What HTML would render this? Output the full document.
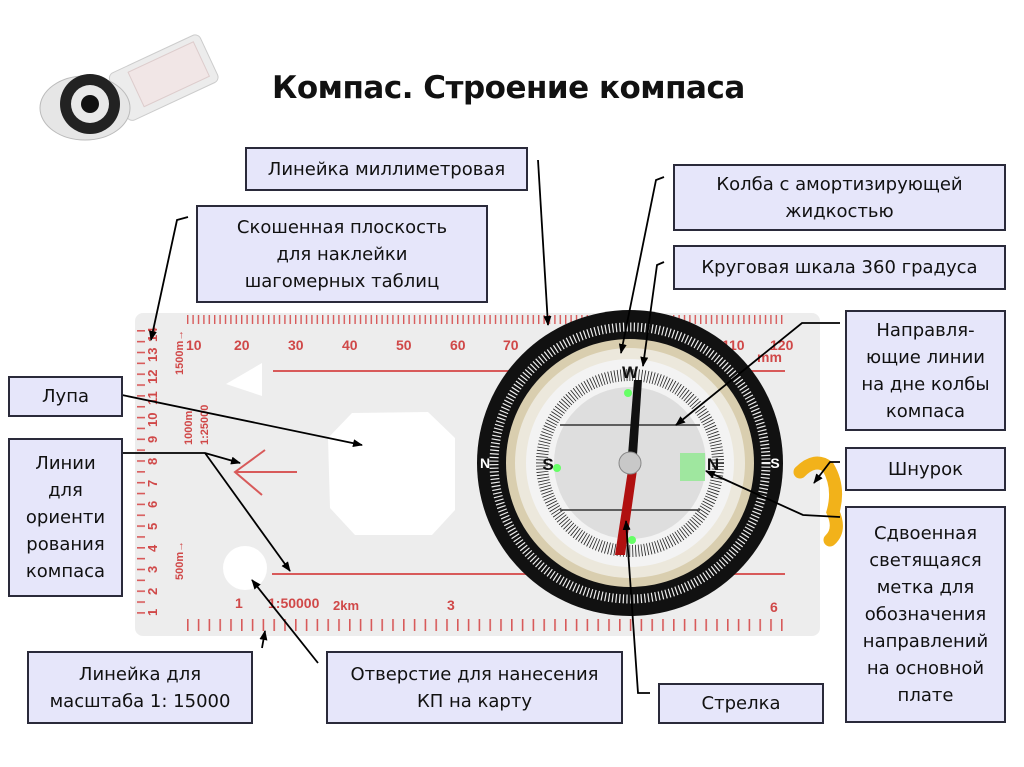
<!DOCTYPE html>
<html><head><meta charset="utf-8"><style>
html,body{margin:0;padding:0;background:#fff;}
body{width:1024px;height:767px;overflow:hidden;position:relative;font-family:"DejaVu Sans","Liberation Sans",sans-serif;}
.b{position:absolute;background:#e6e6fa;border:2px solid #2a2a3a;box-sizing:border-box;display:flex;align-items:center;justify-content:center;text-align:center;font-size:18px;line-height:27px;color:#111;}
h1{position:absolute;left:272px;top:70px;margin:0;font:bold 31px "DejaVu Sans","Liberation Sans",sans-serif;color:#111;letter-spacing:-0.5px}
svg{position:absolute;left:0;top:0}
</style></head><body>
<svg width="1024" height="767" viewBox="0 0 1024 767">
<defs>
<pattern id="tt" x="187" y="315" width="5.4" height="40" patternUnits="userSpaceOnUse"><rect x="0" y="0" width="1.4" height="9" fill="#d85a5a"/></pattern>
<pattern id="tb" x="187" y="615" width="10.8" height="40" patternUnits="userSpaceOnUse"><rect x="0" y="4" width="1.6" height="12" fill="#d85a5a"/></pattern>
<pattern id="tl" x="137" y="330" width="40" height="10.85" patternUnits="userSpaceOnUse"><rect x="0" y="0" width="8" height="1.6" fill="#d85a5a"/></pattern>
<marker id="ar" markerWidth="10" markerHeight="8" refX="9" refY="4" orient="auto" markerUnits="userSpaceOnUse"><path d="M0,0 L10,4 L0,8 z" fill="#000"/></marker>
</defs>
<!-- thumbnail -->
<g transform="translate(130,100) rotate(-25)">
<rect x="-10" y="-32" width="100" height="52" rx="6" fill="#ececec" stroke="#ccc"/>
<rect x="10" y="-26" width="72" height="38" fill="#f1e6e6" stroke="#dcc"/>
</g>
<ellipse cx="85" cy="108" rx="45" ry="32" fill="#e6e6e6" stroke="#bbb"/>
<circle cx="90" cy="104" r="30" fill="#222"/>
<circle cx="90" cy="104" r="19" fill="#e8e8e8"/>
<circle cx="90" cy="104" r="9" fill="#111"/>
<!-- plate -->
<rect x="135" y="313" width="685" height="323" rx="8" fill="#ededed"/>
<rect x="185" y="315" width="600" height="9" fill="url(#tt)"/>
<rect x="185" y="615" width="605" height="17" fill="url(#tb)"/>
<rect x="137" y="322" width="9" height="300" fill="url(#tl)"/>
<g fill="#d04848" font-family="Liberation Sans,sans-serif" font-size="14" font-weight="bold">
<text x="186" y="350">10</text><text x="234" y="350">20</text><text x="288" y="350">30</text><text x="342" y="350">40</text><text x="396" y="350">50</text><text x="450" y="350">60</text><text x="503" y="350">70</text><text x="722" y="350">110</text><text x="770" y="350">120</text><text x="757" y="362">mm</text>
<text x="235" y="608">1</text><text x="268" y="608">1:50000</text><text x="333" y="610" font-size="13">2km</text><text x="447" y="610">3</text><text x="770" y="612">6</text>
<g font-size="13">
<text transform="translate(157,342) rotate(-90)">14</text><text transform="translate(157,362) rotate(-90)">13</text><text transform="translate(157,384) rotate(-90)">12</text><text transform="translate(157,405) rotate(-90)">11</text><text transform="translate(157,427) rotate(-90)">10</text><text transform="translate(157,443) rotate(-90)">9</text><text transform="translate(157,465) rotate(-90)">8</text><text transform="translate(157,487) rotate(-90)">7</text><text transform="translate(157,508) rotate(-90)">6</text><text transform="translate(157,530) rotate(-90)">5</text><text transform="translate(157,552) rotate(-90)">4</text><text transform="translate(157,573) rotate(-90)">3</text><text transform="translate(157,595) rotate(-90)">2</text><text transform="translate(157,616) rotate(-90)">1</text>
<text transform="translate(183,375) rotate(-90)" font-size="11">1500m→</text>
<text transform="translate(192,445) rotate(-90)" font-size="11">1000m</text>
<text transform="translate(208,445) rotate(-90)" font-size="11">1:25000</text>
<text transform="translate(183,580) rotate(-90)" font-size="11">500m→</text>
</g></g>
<line x1="273" y1="371" x2="785" y2="371" stroke="#d85a5a" stroke-width="2"/>
<line x1="272" y1="574" x2="785" y2="574" stroke="#d85a5a" stroke-width="2"/>
<path d="M265,450 L235,472 L262,495 M235,472 L297,472" stroke="#d85a5a" stroke-width="2" fill="none"/>
<polygon points="352,413 428,412 455,438 455,510 432,535 355,535 330,508 328,438" fill="#fff"/>
<polygon points="262,363 262,396 226,384" fill="#fff"/>
<circle cx="245" cy="568" r="22" fill="#fff"/>
<!-- lanyard -->
<path d="M800,472 q15,-15 28,-5 q12,20 5,45 q8,18 -3,28" stroke="#f2b21a" stroke-width="13" fill="none" stroke-linecap="round"/>
<!-- compass -->
<circle cx="630" cy="463" r="153" fill="#111"/>
<circle cx="630" cy="463" r="136" fill="none" stroke="#eee" stroke-width="9" stroke-dasharray="1.2 2.4"/>
<circle cx="630" cy="463" r="124" fill="#d9ceaf"/>
<circle cx="630" cy="463" r="115" fill="#ece8dc"/>
<circle cx="630" cy="463" r="104" fill="#f3f3f3"/>
<circle cx="630" cy="463" r="88" fill="none" stroke="#222" stroke-width="12" stroke-dasharray="0.8 2.2"/>
<circle cx="630" cy="463" r="76" fill="#dedede"/>
<line x1="560" y1="425" x2="700" y2="425" stroke="#333" stroke-width="1.5"/>
<line x1="560" y1="510" x2="700" y2="510" stroke="#333" stroke-width="1.5"/>
<rect x="680" y="453" width="25" height="28" fill="#8fe88f" opacity="0.8"/>
<circle cx="557" cy="468" r="4" fill="#6f6"/><circle cx="628" cy="393" r="4" fill="#6f6"/><circle cx="632" cy="540" r="4" fill="#6f6"/>
<g fill="#fff" font-family="Liberation Sans,sans-serif" font-weight="bold" font-size="14" text-anchor="middle">
<text x="485" y="468">N</text><text x="775" y="468">S</text>
</g>
<g fill="#111" font-family="Liberation Sans,sans-serif" font-weight="bold" font-size="17" text-anchor="middle">
<text x="630" y="378">W</text><text x="713" y="470">N</text><text x="548" y="470">S</text>
</g>
<polygon points="628,455 637,455 642,380 634,380" fill="#111"/>
<polygon points="628,470 637,470 625,555 615,555" fill="#b01010"/>
<circle cx="630" cy="463" r="11" fill="#c8c8c8" stroke="#888"/>
<!-- connectors -->
<g stroke="#000" stroke-width="1.8" fill="none">
<path d="M538,160 L548,325" marker-end="url(#ar)"/>
<path d="M188,217 L177,220 L151,340" marker-end="url(#ar)"/>
<path d="M664,177 L656,180 L621,353" marker-end="url(#ar)"/>
<path d="M664,262 L657,265 L643,366" marker-end="url(#ar)"/>
<path d="M840,323 L802,323 L676,425" marker-end="url(#ar)"/>
<path d="M122,395 L362,445" marker-end="url(#ar)"/>
<path d="M122,453 L205,453 L240,463" marker-end="url(#ar)"/>
<path d="M205,453 L290,571" marker-end="url(#ar)"/>
<path d="M840,462 L830,462 L814,483" marker-end="url(#ar)"/>
<path d="M840,517 L803,515 L706,471" marker-end="url(#ar)"/>
<path d="M262,648 L265,631" marker-end="url(#ar)"/>
<path d="M318,663 L252,580" marker-end="url(#ar)"/>
<path d="M650,693 L638,693 L626,521" marker-end="url(#ar)"/>
</g>
</svg>
<h1>Компас. Строение компаса</h1>
<div class="b" style="left:245px;top:147px;width:283px;height:44px">Линейка миллиметровая</div>
<div class="b" style="left:196px;top:205px;width:292px;height:98px">Скошенная плоскость<br>для наклейки<br>шагомерных таблиц</div>
<div class="b" style="left:673px;top:164px;width:333px;height:67px">Колба с амортизирующей<br>жидкостью</div>
<div class="b" style="left:673px;top:245px;width:333px;height:45px">Круговая шкала 360 градуса</div>
<div class="b" style="left:845px;top:310px;width:161px;height:121px">Направля-<br>ющие линии<br>на дне колбы<br>компаса</div>
<div class="b" style="left:8px;top:376px;width:115px;height:41px">Лупа</div>
<div class="b" style="left:8px;top:438px;width:115px;height:159px">Линии<br>для<br>ориенти<br>рования<br>компаса</div>
<div class="b" style="left:845px;top:447px;width:161px;height:44px">Шнурок</div>
<div class="b" style="left:845px;top:506px;width:161px;height:217px">Сдвоенная<br>светящаяся<br>метка для<br>обозначения<br>направлений<br>на основной<br>плате</div>
<div class="b" style="left:27px;top:651px;width:226px;height:73px">Линейка для<br>масштаба 1: 15000</div>
<div class="b" style="left:326px;top:651px;width:297px;height:73px">Отверстие для нанесения<br>КП на карту</div>
<div class="b" style="left:658px;top:683px;width:166px;height:41px">Стрелка</div>
</body></html>
